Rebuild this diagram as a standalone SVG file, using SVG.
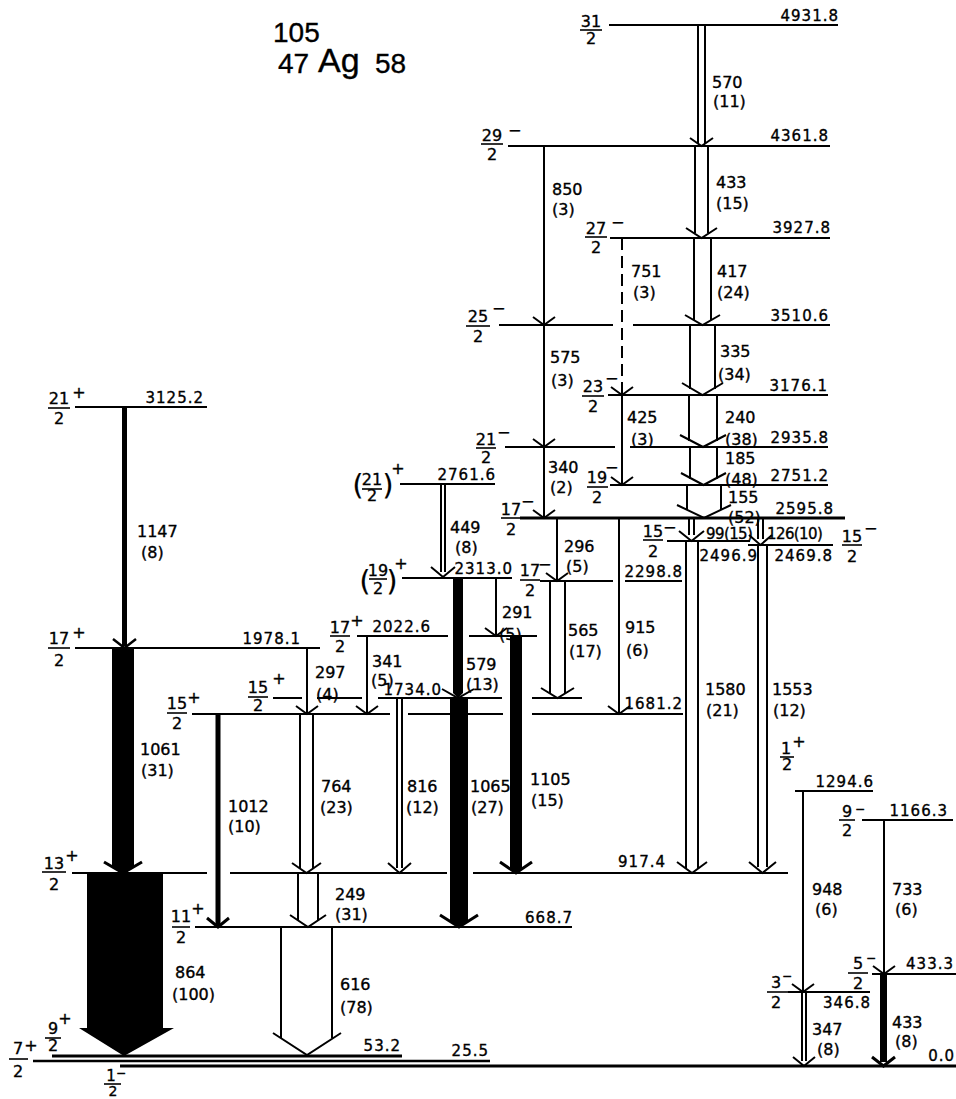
<svg xmlns="http://www.w3.org/2000/svg" width="956" height="1099" viewBox="0 0 956 1099">
<style>
.lv{stroke:#000;stroke-width:2;fill:none}
.lvt{stroke:#000;stroke-width:3;fill:none}
.fb{stroke:#000;stroke-width:1.6}
.tr{stroke:#000;stroke-width:2;fill:none}
.dash{stroke-dasharray:12 6}
.bk{fill:#000}
text{font-family:"DejaVu Sans","Liberation Sans",sans-serif;fill:#000;stroke:#000;stroke-width:0.35px}
.e{font-size:15px;text-anchor:end;letter-spacing:1px}
.s{font-size:16px;text-anchor:middle}
.sg{font-size:16px}
.sm{font-size:12px}
.pl{font-size:16px;text-anchor:middle}
.t{font-size:16px}
.tn{font-size:15px;letter-spacing:-0.6px}
.p{font-size:28px;text-anchor:middle;stroke-width:0.2px}
.ti{font-family:"Liberation Sans",sans-serif}
</style>
<rect width="956" height="1099" fill="#fff"/>

<g id="title">
<text class="ti" x="273" y="42" style="font-size:28px">105</text>
<text class="ti" x="278" y="73" style="font-size:28px">47</text>
<text class="ti" x="318" y="72" style="font-size:34px">Ag</text>
<text class="ti" x="375" y="73" style="font-size:28px">58</text>
</g>

<!-- LEVELS -->
<g id="lv-4931.8"><line class="lv" x1="609" y1="25" x2="838" y2="25"/><text class="e" x="839" y="21">4931.8</text>
<text class="s" x="591" y="27">31</text><line class="fb" x1="580" y1="30" x2="602" y2="30"/><text class="s" x="591" y="44">2</text></g>

<g id="lv-4361.8"><line class="lv" x1="508" y1="146" x2="830" y2="146"/><text class="e" x="829" y="141">4361.8</text>
<text class="s" x="492" y="141">29</text><line class="fb" x1="481" y1="144" x2="503" y2="144"/><text class="s" x="492" y="160">2</text><text class="sg" x="508" y="136">−</text></g>

<g id="lv-3927.8"><line class="lv" x1="610" y1="238" x2="830" y2="238"/><text class="e" x="831" y="233">3927.8</text>
<text class="s" x="596" y="234">27</text><line class="fb" x1="585" y1="237" x2="607" y2="237"/><text class="s" x="596" y="253">2</text><text class="sg" x="611" y="228">−</text></g>

<g id="lv-3510.6"><line class="lv" x1="499" y1="325" x2="613" y2="325"/><line class="lv" x1="633" y1="325" x2="830" y2="325"/><text class="e" x="829" y="321">3510.6</text>
<text class="s" x="478" y="322">25</text><line class="fb" x1="466" y1="326" x2="490" y2="326"/><text class="s" x="478" y="342">2</text><text class="sg" x="492" y="314">−</text></g>

<g id="lv-3176.1"><line class="lv" x1="608" y1="395" x2="828" y2="395"/><text class="e" x="828" y="391">3176.1</text>
<text class="s" x="593" y="392">23</text><line class="fb" x1="582" y1="396" x2="604" y2="396"/><text class="s" x="593" y="412">2</text><text class="sg" x="605" y="384">−</text></g>

<g id="lv-2935.8"><line class="lv" x1="505" y1="447" x2="615" y2="447"/><line class="lv" x1="630" y1="447" x2="828" y2="447"/><text class="e" x="829" y="443">2935.8</text>
<text class="s" x="486" y="445">21</text><line class="fb" x1="476" y1="448" x2="496" y2="448"/><text class="s" x="486" y="463">2</text><text class="sg" x="497" y="438">−</text></g>

<g id="lv-2751.2"><line class="lv" x1="610" y1="485" x2="828" y2="485"/><text class="e" x="829" y="481">2751.2</text>
<text class="s" x="597" y="483">19</text><line class="fb" x1="587" y1="487" x2="608" y2="487"/><text class="s" x="597" y="503">2</text><text class="sg" x="605" y="473">−</text></g>

<g id="lv-2595.8"><line class="lvt" x1="520" y1="518" x2="845" y2="518"/><text class="e" x="834" y="514">2595.8</text>
<text class="s" x="511" y="515">17</text><line class="fb" x1="501" y1="518" x2="521" y2="518"/><text class="s" x="511" y="535">2</text><text class="sg" x="521" y="507">−</text></g>

<g id="lv-2496.9"><line class="lv" x1="667" y1="541" x2="750" y2="541"/><text class="e" x="758" y="561">2496.9</text>
<text class="s" x="653" y="537">15</text><line class="fb" x1="643" y1="540" x2="663" y2="540"/><text class="s" x="653" y="557">2</text><text class="sg" x="663" y="533">−</text></g>

<g id="lv-2469.8"><line class="lv" x1="748" y1="545" x2="833" y2="545"/><text class="e" x="833" y="561">2469.8</text>
<text class="s" x="852" y="542">15</text><line class="fb" x1="842" y1="545" x2="862" y2="545"/><text class="s" x="852" y="562">2</text><text class="sg" x="864" y="534">−</text></g>

<g id="lv-2298.8"><line class="lv" x1="540" y1="581" x2="613" y2="581"/><line class="lv" x1="625" y1="581" x2="682" y2="581"/><text class="e" x="683" y="577">2298.8</text>
<text class="s" x="530" y="576">17</text><line class="fb" x1="520" y1="580" x2="540" y2="580"/><text class="s" x="530" y="596">2</text><text class="sg" x="538" y="570">−</text></g>

<g id="lv-2761.6"><line class="lv" x1="400" y1="484" x2="495" y2="484"/><text class="e" x="496" y="480">2761.6</text>
<text class="p" x="358" y="495">(</text><text class="s" x="372" y="485">21</text><line class="fb" x1="362" y1="489" x2="382" y2="489"/><text class="s" x="372" y="501">2</text><text class="p" x="388" y="495">)</text><text class="pl" x="398" y="474">+</text></g>

<g id="lv-2313.0"><line class="lv" x1="402" y1="578" x2="512" y2="578"/><text class="e" x="513" y="574">2313.0</text>
<text class="p" x="365" y="591">(</text><text class="s" x="378" y="576">19</text><line class="fb" x1="369" y1="579" x2="387" y2="579"/><text class="s" x="378" y="594">2</text><text class="p" x="392" y="591">)</text><text class="pl" x="401" y="569">+</text></g>

<g id="lv-3125.2"><line class="lv" x1="75" y1="407" x2="207" y2="407"/><text class="e" x="204" y="403">3125.2</text>
<text class="s" x="59" y="404">21</text><line class="fb" x1="48" y1="408" x2="70" y2="408"/><text class="s" x="59" y="424">2</text><text class="pl" x="79" y="398">+</text></g>

<g id="lv-2022.6"><line class="lv" x1="357" y1="636" x2="448" y2="636"/><line class="lv" x1="469" y1="636" x2="537" y2="636"/><text class="e" x="431" y="632">2022.6</text>
<text class="s" x="340" y="633">17</text><line class="fb" x1="330" y1="636" x2="350" y2="636"/><text class="s" x="340" y="652">2</text><text class="pl" x="357" y="626">+</text></g>

<g id="lv-1978.1"><line class="lv" x1="75" y1="648" x2="320" y2="648"/><text class="e" x="301" y="644">1978.1</text>
<text class="s" x="59" y="644">17</text><line class="fb" x1="48" y1="648" x2="70" y2="648"/><text class="s" x="59" y="666">2</text><text class="pl" x="79" y="638">+</text></g>

<g id="lv-1734.0"><line class="lv" x1="273" y1="698" x2="302" y2="698"/><line class="lv" x1="317" y1="698" x2="362" y2="698"/><line class="lv" x1="378" y1="698" x2="502" y2="698"/><line class="lv" x1="532" y1="698" x2="582" y2="698"/><text class="e" x="442" y="695">1734.0</text>
<text class="s" x="258" y="693">15</text><line class="fb" x1="248" y1="697" x2="268" y2="697"/><text class="s" x="258" y="711">2</text><text class="pl" x="279" y="684">+</text></g>

<g id="lv-1681.2"><line class="lv" x1="192" y1="714" x2="390" y2="714"/><line class="lv" x1="408" y1="714" x2="503" y2="714"/><line class="lv" x1="532" y1="714" x2="683" y2="714"/><text class="e" x="683" y="709">1681.2</text>
<text class="s" x="177" y="709">15</text><line class="fb" x1="167" y1="713" x2="187" y2="713"/><text class="s" x="177" y="729">2</text><text class="pl" x="194" y="703">+</text></g>

<g id="lv-1294.6"><line class="lv" x1="795" y1="791" x2="873" y2="791"/><text class="e" x="874" y="787">1294.6</text>
<text class="s" x="786" y="754">1</text><line class="fb" x1="780" y1="757" x2="794" y2="757"/><text class="s" x="787" y="770">2</text><text class="pl" x="799" y="747">+</text></g>

<g id="lv-1166.3"><line class="lv" x1="862" y1="820" x2="953" y2="820"/><text class="e" x="948" y="816">1166.3</text>
<text class="s" x="847" y="817">9</text><line class="fb" x1="839" y1="820" x2="855" y2="820"/><text class="s" x="847" y="836">2</text><text class="sm" x="855" y="813">−</text></g>

<g id="lv-917.4"><line class="lv" x1="72" y1="873" x2="207" y2="873"/><line class="lv" x1="230" y1="873" x2="447" y2="873"/><line class="lv" x1="473" y1="873" x2="788" y2="873"/><text class="e" x="666" y="867">917.4</text>
<text class="s" x="54" y="869">13</text><line class="fb" x1="42" y1="872" x2="66" y2="872"/><text class="s" x="54" y="890">2</text><text class="pl" x="72" y="861">+</text></g>

<g id="lv-668.7"><line class="lv" x1="195" y1="927" x2="572" y2="927"/><text class="e" x="573" y="923">668.7</text>
<text class="s" x="181" y="922">11</text><line class="fb" x1="172" y1="927" x2="190" y2="927"/><text class="s" x="181" y="943">2</text><text class="pl" x="198" y="914">+</text></g>

<g id="lv-433.3"><line class="lv" x1="872" y1="974" x2="956" y2="974"/><text class="e" x="954" y="969">433.3</text>
<text class="s" x="858" y="969">5</text><line class="fb" x1="848" y1="973" x2="868" y2="973"/><text class="s" x="858" y="989">2</text><text class="sm" x="866" y="962">−</text></g>

<g id="lv-346.8"><line class="lv" x1="788" y1="992" x2="870" y2="992"/><text class="e" x="871" y="1008">346.8</text>
<text class="s" x="776" y="988">3</text><line class="fb" x1="767" y1="992" x2="788" y2="992"/><text class="s" x="776" y="1008">2</text><text class="sm" x="782" y="980">−</text></g>

<g id="lv-53.2"><line class="lvt" x1="52" y1="1056" x2="402" y2="1056"/><text class="e" x="401" y="1051">53.2</text>
<text class="s" x="53" y="1034">9</text><line class="fb" x1="45" y1="1038" x2="61" y2="1038"/><text class="s" x="53" y="1051">2</text><text class="pl" x="65" y="1024">+</text></g>

<g id="lv-25.5"><line class="lv" x1="33" y1="1061" x2="490" y2="1061" style="stroke-width:2.5"/><text class="e" x="489" y="1056">25.5</text>
<text class="s" x="18" y="1054">7</text><line class="fb" x1="9" y1="1059" x2="28" y2="1059"/><text class="s" x="18" y="1077">2</text><text class="pl" x="31" y="1051">+</text></g>

<g id="lv-0.0"><line class="lvt" x1="120" y1="1066" x2="956" y2="1066"/><text class="e" x="955" y="1061">0.0</text>
<text class="s" x="111" y="1081" style="font-size:15px">1</text><line class="fb" x1="104" y1="1084" x2="121" y2="1084"/><text class="s" x="113" y="1096" style="font-size:14px">2</text><text class="sm" x="116" y="1077">−</text></g>

<!-- CONNECTORS -->
<g id="connectors">
<path class="tr" d="M698 25V143M705 25V143M690 138L701.5 146L713 138"/>
<path class="tr" d="M695 146V233M708 146V233M686 228L701.5 238L717 228"/>
<path class="tr" d="M694 238V320M711 238V320M685 315L702.5 325L720 315"/>
<path class="tr" d="M690 325V389M715 325V389M682 383L702.5 395L723 383"/>
<path class="tr" d="M689 395V441M717 395V441M680 435L703 447L726 435"/>
<path class="tr" d="M690 447V479M717 447V479M681 473L703.5 485L726 473"/>
<path class="tr" d="M687 485V510M721 485V510M677 505L704 518L731 505"/>
<path class="tr" d="M689 518V535M694 518V535M679 531L691.5 541L704 531"/>
<path class="tr" d="M758 518V539M763 518V539M749 535L760.5 545L772 535"/>
<path class="tr" d="M686 541V868M698 541V868M677 862L692 873L707 862"/>
<path class="tr" d="M758 545V867M767 545V867M749 862L762.5 873L776 862"/>
<path class="tr" d="M441 484V572M445 484V572M431 567L443 577L455 567"/>
<path class="tr" d="M550 581V693M565 581V693M541 688L557.5 698L574 688"/>
<path class="tr" d="M300 714V868M313 714V868M292 863L306.5 873L321 863"/>
<path class="tr" d="M397 698V868M402 698V868M388 863L399.5 873L411 863"/>
<path class="tr" d="M298 873V921M318 873V921M290 915L308 927L326 915"/>
<path class="tr" d="M281 927V1038M332 927V1038M273 1033L307 1055L341 1033"/>
<path class="tr" d="M802 992V1061M806 992V1061M793 1057L804 1066L815 1057"/>
<path class="tr" d="M544 146V325M533 317L544 325L555 317"/>
<path class="tr" d="M544 325V447M533 439L544 447L555 439"/>
<path class="tr" d="M544 447V518M533 510L544 518L555 510"/>
<path class="tr dash" d="M622 238V395"/>
<path class="tr" d="M611 387L622 395L633 387"/>
<path class="tr" d="M622 395V485M611 477L622 485L633 477"/>
<path class="tr" d="M557 518V581M546 573L557 581L568 573"/>
<path class="tr" d="M619 518V714M608 706L619 714L630 706"/>
<path class="tr" d="M496 577V636M485 628L496 636L507 628"/>
<path class="tr" d="M307 649V714M296 706L307 714L318 706"/>
<path class="tr" d="M367 637V714M356 706L367 714L378 706"/>
<path class="tr" d="M803 791V992M792 984L803 992L814 984"/>
<path class="tr" d="M884 820V974M873 966L884 974L895 966"/>
<path class="tr" d="M124.5 407V646" style="stroke-width:5"/>
<path class="tr" d="M113 639L124.5 648L136 639" style="stroke-width:2.5"/>
<path class="bk" d="M112 648H134V867L123 873L112 867Z"/>
<path class="tr" d="M104 862L123 873L142 862" style="stroke-width:3"/>
<path class="bk" d="M87 873H163V1028H174L124 1056L79 1028H87Z"/>
<path class="tr" d="M218 714V925" style="stroke-width:5"/>
<path class="tr" d="M207 918L218 927L229 918" style="stroke-width:3"/>
<path class="bk" d="M453 578H463V693L458 698L453 693Z"/>
<path class="tr" d="M442 689L458 698L474 689"/>
<path class="bk" d="M450 698H468V921L459 927L450 921Z"/>
<path class="tr" d="M440 915L459 927L478 915" style="stroke-width:3"/>
<path class="bk" d="M510 636H522V868L516 873L510 868Z"/>
<path class="tr" d="M500 862L516 873L532 862" style="stroke-width:3"/>
<path class="tr" d="M883.5 974V1062" style="stroke-width:7"/>
<path class="tr" d="M872 1057L883.5 1066L895 1057" style="stroke-width:3"/>
</g>

<g id="transition-labels">
<text class="t" x="712" y="88">570</text><text class="t" x="713" y="107">(11)</text>
<text class="t" x="716" y="188">433</text><text class="t" x="716" y="209">(15)</text>
<text class="t" x="552" y="195">850</text><text class="t" x="552" y="215">(3)</text>
<text class="t" x="631" y="277">751</text><text class="t" x="633" y="298">(3)</text>
<text class="t" x="717" y="277">417</text><text class="t" x="717" y="298">(24)</text>
<text class="t" x="550" y="363">575</text><text class="t" x="551" y="386">(3)</text>
<text class="t" x="720" y="357">335</text><text class="t" x="718" y="380">(34)</text>
<text class="t" x="627" y="423">425</text><text class="t" x="631" y="445">(3)</text>
<text class="t" x="725" y="423">240</text><text class="t" x="725" y="445">(38)</text>
<text class="t" x="548" y="473">340</text><text class="t" x="550" y="493">(2)</text>
<text class="t" x="725" y="464">185</text><text class="t" x="725" y="485">(48)</text>
<text class="t" x="728" y="503">155</text><text class="t" x="728" y="523">(52)</text>
<text class="t" x="564" y="552">296</text><text class="t" x="566" y="572">(5)</text>
<text class="t" x="625" y="633">915</text><text class="t" x="626" y="656">(6)</text>
<text class="tn" x="706" y="539">99(15)</text>
<text class="tn" x="767" y="539">126(10)</text>
<text class="t" x="705" y="695">1580</text><text class="t" x="706" y="716">(21)</text>
<text class="t" x="772" y="695">1553</text><text class="t" x="773" y="716">(12)</text>
<text class="t" x="450" y="533">449</text><text class="t" x="455" y="553">(8)</text>
<text class="t" x="502" y="618">291</text><text class="t" x="499" y="640">(5)</text>
<text class="t" x="466" y="670">579</text><text class="t" x="466" y="690">(13)</text>
<text class="t" x="568" y="636">565</text><text class="t" x="569" y="657">(17)</text>
<text class="t" x="137" y="537">1147</text><text class="t" x="141" y="558">(8)</text>
<text class="t" x="140" y="755">1061</text><text class="t" x="141" y="776">(31)</text>
<text class="t" x="175" y="978">864</text><text class="t" x="172" y="1000">(100)</text>
<text class="t" x="228" y="812">1012</text><text class="t" x="228" y="832">(10)</text>
<text class="t" x="315" y="678">297</text><text class="t" x="316" y="700">(4)</text>
<text class="t" x="372" y="667">341</text><text class="t" x="371" y="686">(5)</text>
<text class="t" x="321" y="792">764</text><text class="t" x="320" y="813">(23)</text>
<text class="t" x="407" y="792">816</text><text class="t" x="406" y="813">(12)</text>
<text class="t" x="470" y="792">1065</text><text class="t" x="471" y="813">(27)</text>
<text class="t" x="530" y="785">1105</text><text class="t" x="531" y="806">(15)</text>
<text class="t" x="335" y="900">249</text><text class="t" x="335" y="920">(31)</text>
<text class="t" x="340" y="990">616</text><text class="t" x="340" y="1013">(78)</text>
<text class="t" x="812" y="895">948</text><text class="t" x="815" y="915">(6)</text>
<text class="t" x="892" y="895">733</text><text class="t" x="895" y="915">(6)</text>
<text class="t" x="812" y="1035">347</text><text class="t" x="817" y="1055">(8)</text>
<text class="t" x="892" y="1028">433</text><text class="t" x="895" y="1047">(8)</text>
</g>
</svg>
